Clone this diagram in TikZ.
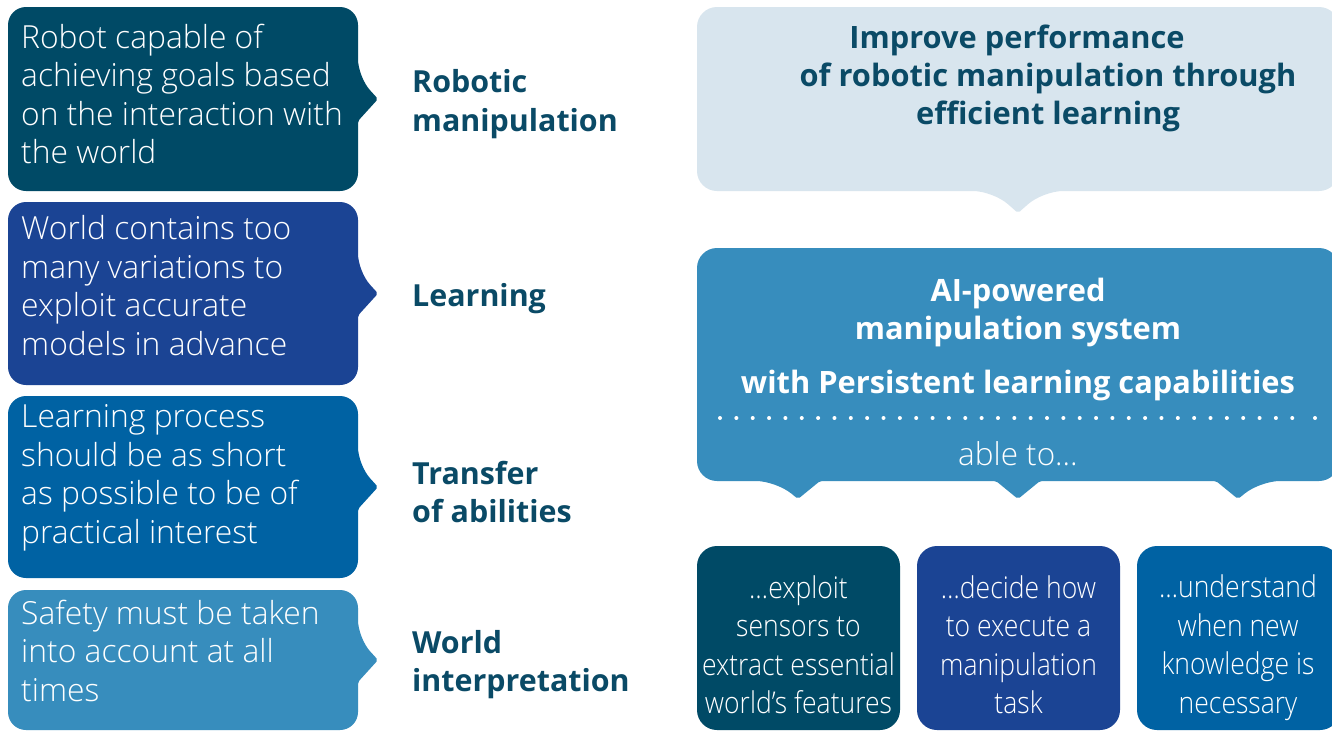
\documentclass[tikz,border=0pt]{standalone}
\usepackage{fontspec}
\setmainfont{Open Sans}
\newfontfamily\lightfont{Open Sans Light}
\newfontfamily\condfont{Open Sans Light}[FakeStretch=0.885]
\definecolor{cTeal}{RGB}{0,74,102}
\definecolor{cNavy}{RGB}{27,68,148}
\definecolor{cBlue}{RGB}{0,98,163}
\definecolor{cSky}{RGB}{55,141,189}
\definecolor{cPale}{RGB}{216,229,238}
\definecolor{cLabel}{RGB}{10,74,102}
\tikzset{
  bubbletext/.style={anchor=west, inner sep=0pt, align=left, text=white,
    font=\lightfont\fontsize{31.8}{38.5}\selectfont},
  topiclabel/.style={anchor=west, inner sep=0pt, align=left, text=cLabel,
    font=\bfseries\fontsize{30.4}{38.5}\selectfont},
  headtext/.style={inner sep=0pt, align=center,
    font=\bfseries\fontsize{30.8}{38}\selectfont},
  abilitytext/.style={inner sep=0pt, align=center, text=white,
    font=\condfont\fontsize{30}{38.5}\selectfont},
}
% bubble pointing right: colour, top, bottom
\newcommand\rightbubble[3]{%
  \fill[#1, rounded corners=18pt] (8,#2) -- (358,#2) -- (358,{(#2+#3)/2-22})
    [rounded corners=2pt] -- (378,{(#2+#3)/2}) -- (358,{(#2+#3)/2+22})
    [rounded corners=18pt] -- (358,#3) -- (8,#3) -- cycle;}
\begin{document}
\begin{tikzpicture}[x=1pt, y=-1pt]
\useasboundingbox[fill=white] (0,0) rectangle (1332,731);

% left column of bubbles
\rightbubble{cTeal}{7}{191}
\rightbubble{cNavy}{202}{385}
\rightbubble{cBlue}{396}{578}
\rightbubble{cSky}{590}{730}

\node[bubbletext] (b1) at (21,94) {Robot capable of\\achieving goals based\\on the interaction with\\the world};
\node[bubbletext] (b2) at (21,285.5) {World contains too\\many variations to\\exploit accurate\\models in advance};
\node[bubbletext] (b3) at (21,478) {Learning process\\should be as short\\as possible to be of\\practical interest};
\node[bubbletext] (b4) at (21,650.5) {Safety must be taken\\into account at all\\times};

\node[topiclabel] (l1) at (412,104) {Robotic\\manipulation};
\node[topiclabel] (l2) at (412,299) {Learning};
\node[topiclabel] (l3) at (412,492) {Transfer\\of abilities};
\node[topiclabel] (l4) at (412,664.5) {World\\interpretation};

% goal bubble
\fill[cPale, rounded corners=20pt] (697,7) -- (1339,7) -- (1339,191) -- (1043,191)
  [rounded corners=2pt] -- (1018,213) [rounded corners=20pt] -- (993,191)
  -- (697,191) -- cycle;
\node[headtext, text=cLabel] (goal) at (1048,78) {Improve performance\hspace*{62pt}\\of robotic manipulation through\\efficient learning};

% system bubble with three pointers
\fill[cSky, rounded corners=20pt] (697,248) -- (1339,248) -- (1339,481)
  -- (1260,481) [rounded corners=2pt] -- (1238,499) -- (1216,481)
  -- (1040,481) -- (1018,499) -- (996,481)
  -- (820,481) -- (798,499) [rounded corners=20pt] -- (776,481)
  -- (697,481) -- cycle;
\node[headtext, text=white] (sys) at (1018,312) {AI-powered\\manipulation system};
\node[headtext, text=white] (pers) at (1018,385) {with Persistent learning capabilities};
\foreach \i in {0,...,35} \fill[white] ({720+16.35*\i},418) circle (2);
\fill[white] (1315,418) circle (2);
\node[inner sep=0pt, text=white, font=\lightfont\fontsize{31.5}{38}\selectfont] (able) at (1018,454) {able to…};

% ability boxes
\fill[cTeal, rounded corners=20pt] (697,546) rectangle (900,730);
\fill[cNavy, rounded corners=20pt] (917,546) rectangle (1120,730);
\fill[cBlue, rounded corners=20pt] (1137,546) rectangle (1340,730);
\node[abilitytext] (a1) at (798.5,644.5) {…exploit\\sensors to\\extract essential\\world’s features};
\node[abilitytext] (a2) at (1018.5,644.5) {…decide how\\to execute a\\manipulation\\task};
\node[abilitytext] (a3) at (1238,647.5) {…understand\\when new\\knowledge is\\necessary};
\end{tikzpicture}
\end{document}
